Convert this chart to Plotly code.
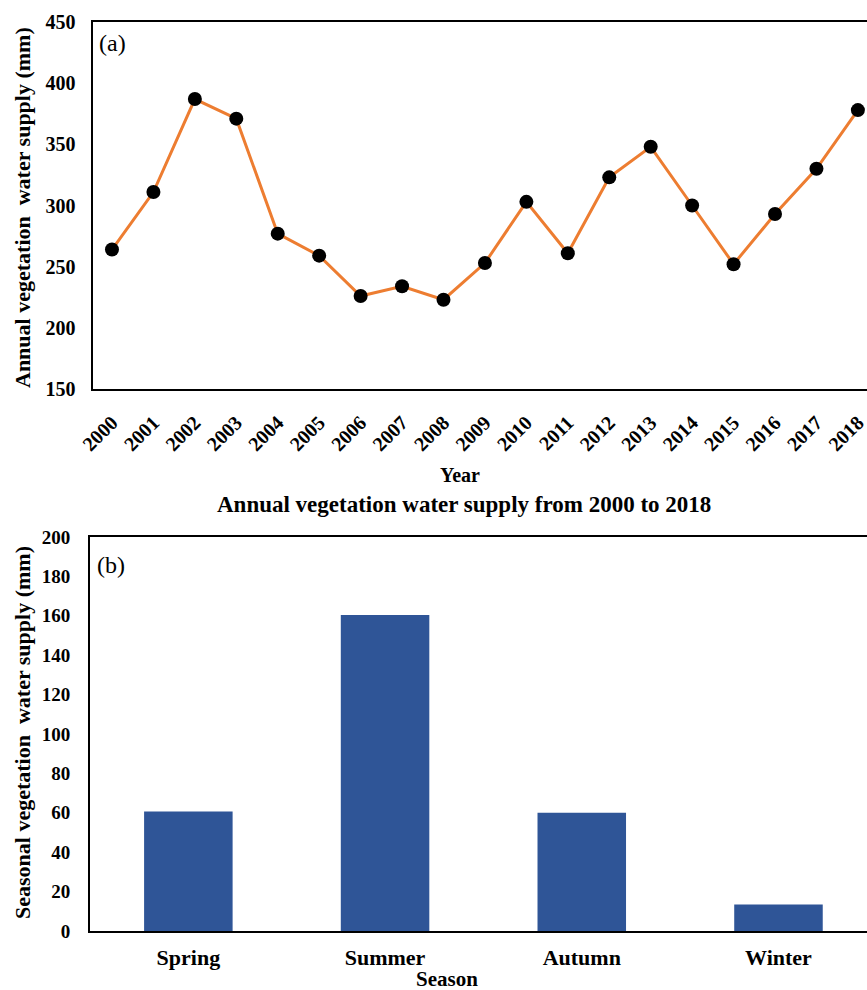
import plotly.graph_objects as go

years = [str(y) for y in range(2000, 2019)]
annual_supply = [264, 311, 387, 371, 277, 259, 226, 234, 223, 253, 303, 261, 323, 348, 300, 252, 293, 330, 378]

seasons = ["Spring", "Summer", "Autumn", "Winter"]
seasonal_supply = [60.6, 160.4, 60.0, 13.5]

W, H = 867, 990
FONT = "Liberation Serif"

def px(x):
    return x / W

def py(y):
    return 1 - y / H

fig = go.Figure()
fig.add_trace(go.Scatter(
    x=years, y=annual_supply, mode="lines+markers",
    line=dict(color="#ED7D31", width=3),
    marker=dict(color="black", size=14),
    xaxis="x", yaxis="y", showlegend=False,
))
fig.add_trace(go.Bar(
    x=seasons, y=seasonal_supply, marker=dict(color="#2F5597", line=dict(width=0)),
    xaxis="x2", yaxis="y2", showlegend=False,
))

def bfont(size):
    return dict(family=FONT, size=size, color="black", weight="bold")

fig.update_layout(
    width=W, height=H,
    margin=dict(l=0, r=0, t=0, b=0),
    paper_bgcolor="white", plot_bgcolor="white",
    bargap=0.55,
    xaxis=dict(
        domain=[px(92.5), 1], anchor="y", type="category",
        range=[-0.47, 18.22],
        showline=True, linecolor="black", linewidth=2, mirror=True,
        showgrid=False, ticks="", tickangle=-45, tickfont=bfont(20),
        ticklabelstandoff=12, automargin=False,
    ),
    yaxis=dict(
        domain=[py(389), py(22)], anchor="x",
        range=[150, 450], dtick=50,
        showline=True, linecolor="black", linewidth=2, mirror=False,
        showgrid=False, ticks="", tickfont=bfont(20), zeroline=False,
        ticklabelstandoff=11, automargin=False,
    ),
    xaxis2=dict(
        domain=[px(90), 1], anchor="y2", type="category",
        range=[-0.5, 3.45],
        showline=True, linecolor="black", linewidth=2, mirror=True,
        showgrid=False, ticks="", tickfont=bfont(22),
        ticklabelstandoff=6, automargin=False,
    ),
    yaxis2=dict(
        domain=[py(931), py(537)], anchor="x2",
        range=[0, 200], dtick=20,
        showline=True, linecolor="black", linewidth=2, mirror=False,
        showgrid=False, ticks="", tickfont=bfont(19), zeroline=False,
        ticklabelstandoff=14, automargin=False,
    ),
)

def ann(text, x, y, size=20, bold=True, angle=0, xanchor="center"):
    fig.add_annotation(
        text=text, x=px(x), y=py(y), xref="paper", yref="paper",
        showarrow=False, textangle=angle, xanchor=xanchor, yanchor="middle",
        font=dict(family=FONT, size=size, color="black", weight="bold" if bold else "normal"),
    )

ann("(a)", 97, 43, size=24, bold=False, xanchor="left")
ann("(b)", 95, 565, size=24, bold=False, xanchor="left")
ann("Annual vegetation  water supply (mm)", 22, 208, size=22, angle=-90)
ann("Seasonal vegetation  water supply (mm)", 22, 733, size=22, angle=-90)
ann("Year", 460, 475, size=20)
ann("Annual vegetation water supply from 2000 to 2018", 464, 505, size=23)
ann("Season", 447, 979, size=21)

fig.write_html(
    "out.html",
    config={"displayModeBar": False},
    post_script="document.body.style.margin='0';document.body.style.overflow='hidden';",
)
